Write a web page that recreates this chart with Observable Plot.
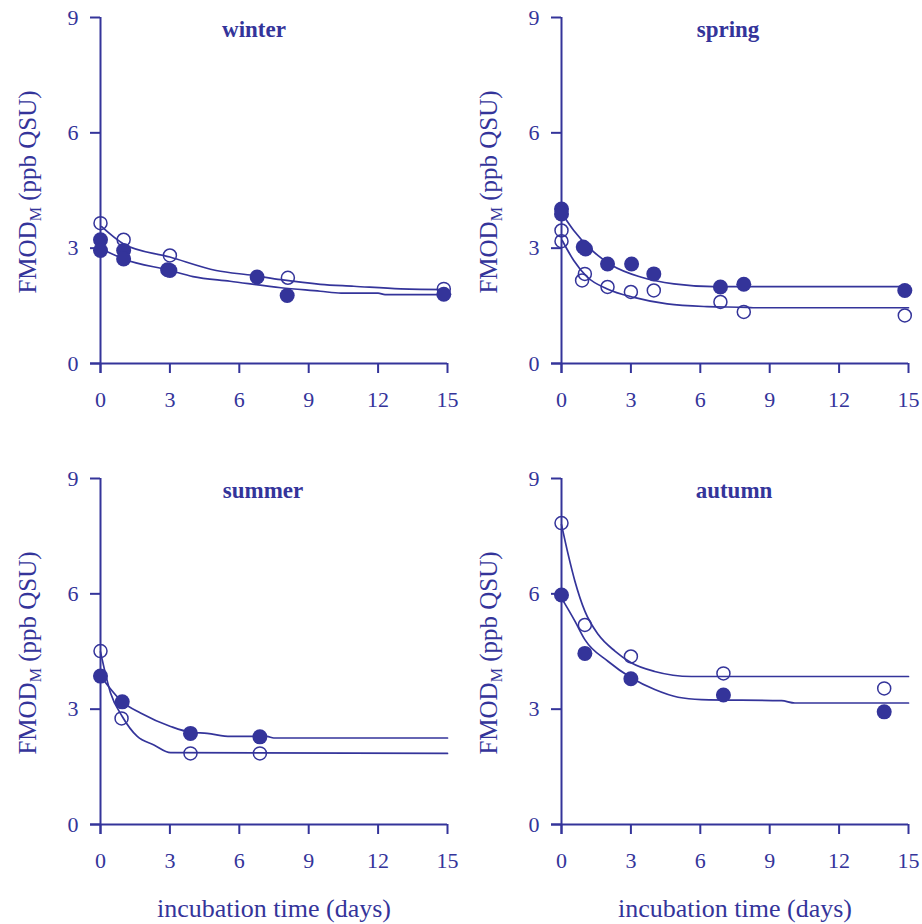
<!DOCTYPE html>
<html>
<head>
<meta charset="utf-8">
<script src="https://cdn.jsdelivr.net/npm/d3@7"></script>
<script src="https://cdn.jsdelivr.net/npm/@observablehq/plot@0.6"></script>
<style>
  body { margin: 0; background: #fff; }
  #chart { position: relative; width: 922px; height: 924px; background: #fff; }
  .panel { position: absolute; }
</style>
</head>
<body>
<div id="chart"></div>
<script>
// Axis ticks shared by all four panels
const xTicks = [0, 3, 6, 9, 12, 15];
const yTicks = [0, 3, 6, 9];
const xLabel = "incubation time (days)";

// Measurements: [day, FMOD_M]; filled = solid circles, open = hollow circles
const winterFilled = [[0, 3.22], [0, 2.94], [1.0, 2.94], [1.0, 2.72], [2.9, 2.44], [3.0, 2.42], [6.77, 2.25], [8.07, 1.77], [14.84, 1.80]];
const winterOpen = [[0, 3.65], [1.0, 3.22], [3.0, 2.81], [8.1, 2.23], [14.84, 1.94]];
const winterFitFilled = [[0.05, 2.98], [1.0, 2.72], [3.0, 2.42], [4.0, 2.26], [5.6, 2.14], [7.8, 1.97], [9.5, 1.88], [10.4, 1.83], [12.0, 1.83], [12.3, 1.79], [15, 1.79]];
const winterFitOpen = [[0.05, 3.56], [1.0, 3.11], [3.0, 2.77], [5.0, 2.42], [6.6, 2.29], [7.8, 2.18], [9.5, 2.06], [10.95, 2.01], [12.97, 1.94], [15, 1.92]];

const springFilled = [[0, 4.02], [0, 3.89], [0.94, 3.03], [1.04, 2.98], [1.99, 2.59], [3.03, 2.59], [3.99, 2.33], [6.87, 1.99], [7.88, 2.06], [14.84, 1.90]];
const springOpen = [[0, 3.46], [0, 3.18], [1.01, 2.33], [0.89, 2.16], [1.99, 1.99], [3.0, 1.86], [3.99, 1.90], [6.87, 1.60], [7.88, 1.34], [14.84, 1.25]];
const springFitFilled = [[0.03, 3.89], [0.53, 3.46], [1.25, 2.98], [2.19, 2.55], [3.42, 2.25], [4.86, 2.07], [6.58, 2.0], [8.6, 2.0], [15, 2.0]];
const springFitOpen = [[0.03, 3.2], [0.53, 2.68], [1.11, 2.25], [1.98, 1.94], [3.13, 1.72], [4.57, 1.55], [6.3, 1.48], [8.03, 1.46], [8.36, 1.45], [15, 1.45]];

const summerFilled = [[0, 3.86], [0.94, 3.19], [3.89, 2.37], [6.89, 2.28]];
const summerOpen = [[0, 4.51], [0.91, 2.76], [3.89, 1.85], [6.89, 1.85]];
const summerFitFilled = [[0, 3.86], [0.94, 3.19], [1.73, 2.90], [3.03, 2.55], [3.89, 2.40], [4.61, 2.37], [5.62, 2.29], [7.2, 2.29], [7.49, 2.25], [15, 2.25]];
const summerFitOpen = [[0, 4.49], [0.43, 3.43], [0.94, 2.81], [1.59, 2.29], [2.31, 2.07], [3.03, 1.87], [15, 1.85]];

const autumnFilled = [[0, 5.97], [1.01, 4.45], [3.0, 3.79], [7.0, 3.37], [13.95, 2.93]];
const autumnOpen = [[0, 7.84], [1.01, 5.19], [3.0, 4.37], [7.0, 3.93], [13.95, 3.54]];
const autumnFitFilled = [[0, 5.89], [0.58, 5.29], [1.01, 4.81], [2.02, 4.24], [3.03, 3.81], [4.03, 3.51], [5.04, 3.31], [6.05, 3.25], [9.51, 3.22], [10.09, 3.16], [15, 3.16]];
const autumnFitOpen = [[0, 7.8], [0.29, 7.02], [0.58, 6.33], [1.01, 5.55], [1.59, 4.94], [2.31, 4.51], [3.03, 4.20], [4.03, 3.98], [5.62, 3.85], [15, 3.85]];

const ink = "#34349a";
const serif = "'Liberation Serif', 'Times New Roman', serif";

const panels = [
  {name: "winter", filled: winterFilled, open: winterOpen, fitF: winterFitFilled, fitO: winterFitOpen, left: 0, top: 0, mt: 17, mb: 99, dx: -20, xl: false},
  {name: "spring", filled: springFilled, open: springOpen, fitF: springFitFilled, fitO: springFitOpen, left: 461, top: 0, mt: 17, mb: 99, dx: -7, xl: false},
  {name: "summer", filled: summerFilled, open: summerOpen, fitF: summerFitFilled, fitO: summerFitOpen, left: 0, top: 462, mt: 16, mb: 100, dx: -11, xl: true},
  {name: "autumn", filled: autumnFilled, open: autumnOpen, fitF: autumnFitFilled, fitO: autumnFitOpen, left: 461, top: 462, mt: 16, mb: 100, dx: -1, xl: true}
];

const chart = document.getElementById("chart");

for (const p of panels) {
  const W = 461, H = 462;
  const marks = [
    // axis lines, extended past the origin by the tick length
    Plot.ruleY([0], {insetLeft: -10, strokeWidth: 2}),
    Plot.ruleX([0], {insetBottom: -10, strokeWidth: 2}),
    Plot.axisY({ticks: yTicks, tickSize: 10, tickPadding: 12, fontSize: 22, strokeWidth: 2, label: null}),
    Plot.axisX({ticks: xTicks, tickSize: 10, tickPadding: 18, fontSize: 22, strokeWidth: 2, label: null}),
    // fitted curves
    Plot.line(p.fitO, {x: d => d[0], y: d => d[1], stroke: ink, strokeWidth: 1.7, curve: "monotone-x"}),
    Plot.line(p.fitF, {x: d => d[0], y: d => d[1], stroke: ink, strokeWidth: 1.7, curve: "monotone-x"}),
    // measurements
    Plot.dot(p.open, {x: d => d[0], y: d => d[1], r: 6.5, stroke: ink, strokeWidth: 1.5, fill: "none"}),
    Plot.dot(p.filled, {x: d => d[0], y: d => d[1], r: 7.5, fill: ink, stroke: "none"}),
    // season title
    Plot.text([p.name], {text: d => d, frameAnchor: "top", lineAnchor: "top", dx: p.dx, dy: 3, fontSize: 23, fontWeight: "bold", fill: ink})
  ];
  if (p.xl) {
    marks.push(Plot.text([xLabel], {text: d => d, frameAnchor: "bottom", lineAnchor: "top", dy: 74, fontSize: 26, fill: ink}));
  }
  const svg = Plot.plot({
    width: W, height: H,
    marginLeft: 100, marginRight: 14, marginTop: p.mt, marginBottom: p.mb,
    x: {domain: [0, 15]},
    y: {domain: [0, 9]},
    style: {color: ink, fontFamily: serif, background: "transparent", overflow: "visible"},
    marks
  });

  // y-axis title with subscripted M
  const cy = p.mt + (H - p.mt - p.mb) / 2 + 2;
  const t = d3.select(svg).append("text")
    .attr("transform", `translate(36,${cy}) rotate(-90)`)
    .attr("text-anchor", "middle")
    .attr("font-family", serif)
    .attr("font-size", 25)
    .attr("fill", ink);
  t.append("tspan").text("FMOD");
  t.append("tspan").attr("font-size", 16).attr("dy", 5).text("M");
  t.append("tspan").attr("dy", -5).text(" (ppb QSU)");

  const div = document.createElement("div");
  div.className = "panel";
  div.style.left = p.left + "px";
  div.style.top = p.top + "px";
  div.appendChild(svg);
  chart.appendChild(div);
}
</script>
</body>
</html>
